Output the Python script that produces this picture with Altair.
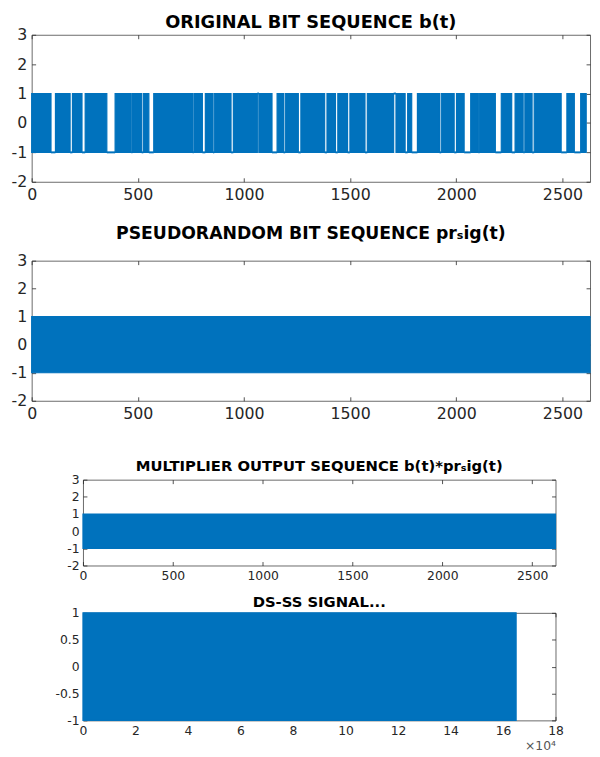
import altair as alt
import pandas as pd

BLUE = "#0072BD"
INK = "#262626"
FRAME = "#6a6a6a"
FONT = "DejaVu Sans"

# ---------------- data ----------------
BIT_X_MAX = 2630          # x limit of the three bit-sequence panels
DS_X_MAX = 180000         # x limit of the DS-SS panel

# panel 1: stretches where b(t) holds one level (white gaps), start / end / level
b_hold_start = [91, 181, 237, 354, 469, 518, 552, 758, 804, 854, 939, 1063, 1132,
                1186, 1256, 1380, 1431, 1488, 1570, 1705, 1759, 1790, 1921, 1990,
                2037, 2104, 2184, 2261, 2315, 2357, 2494, 2556]
b_hold_end = [112, 192, 252, 393, 475, 526, 575, 764, 818, 860, 950, 1070, 1156,
              1194, 1268, 1391, 1442, 1499, 1581, 1716, 1771, 1817, 1929, 2001,
              2068, 2110, 2212, 2277, 2323, 2367, 2521, 2586]
b_hold_level = [-1, -1, -1, -1, -1, -1, -1, -1, -1, -1, -1, 1, -1,
                -1, -1, -1, -1, -1, -1, 1, -1, -1, -1, -1,
                -1, -1, -1, -1, -1, -1, -1, -1]
b_last = 2612

# panel 2 / 3 / 4: extent of the dense chip streams
prs_span = [0, 2630]
mult_span = [0, 2630]
ds_span = [0, 165000]
sig_low, sig_high = -1, 1

bit_y_ticks = [-2, -1, 0, 1, 2, 3]
bit_x_ticks = [0, 500, 1000, 1500, 2000, 2500]
ds_y_ticks = [-1, -0.5, 0, 0.5, 1]
ds_x_ticks = [0, 20000, 40000, 60000, 80000, 100000, 120000, 140000, 160000, 180000]

titles = ["ORIGINAL BIT SEQUENCE b(t)",
          "PSEUDORANDOM BIT SEQUENCE pr\u209big(t)",
          "MULTIPLIER OUTPUT SEQUENCE b(t)*pr\u209big(t)",
          "DS-SS SIGNAL..."]

# ---------------- tables ----------------
p1_spans = pd.DataFrame({"x0": [0] + b_hold_end, "x1": b_hold_start + [b_last],
                         "y0": sig_low, "y1": sig_high})
p1_holds = pd.DataFrame({"s": b_hold_start, "e": b_hold_end, "lvl": b_hold_level})
p2_spans = pd.DataFrame({"x0": [prs_span[0]], "x1": [prs_span[1]], "y0": sig_low, "y1": sig_high})
p3_spans = pd.DataFrame({"x0": [mult_span[0]], "x1": [mult_span[1]], "y0": sig_low, "y1": sig_high})
p4_spans = pd.DataFrame({"x0": [ds_span[0]], "x1": [ds_span[1]], "y0": sig_low, "y1": sig_high})


def make_axis(orient, values, fs, labels=True, expr="toString(datum.value)",
              title=None, tfs=11, lpad=5):
    kw = dict(orient=orient, values=values, domain=False, grid=False, ticks=True,
              tickSize=4, tickColor=INK, tickWidth=0.8, offset=-4, labels=labels,
              title=title, minExtent=0)
    if labels:
        kw.update(labelExpr=expr, labelFont=FONT, labelFontSize=fs,
                  labelColor=INK, labelPadding=lpad, labelFlush=False)
    else:
        kw.update(maxExtent=0)
    if title:
        kw.update(titleAnchor="end", titleAlign="right", titleFont=FONT,
                  titleFontSize=tfs, titleFontWeight="normal", titleColor="#555555",
                  titlePadding=3)
    return alt.Axis(**kw)


def panel(spans, title, w, h, xdom, ydom, xt, yt, fs, tfs, toff,
          holds=None, xexpr="toString(datum.value)", xtitle=None, lpad=5):
    xs = alt.Scale(domain=xdom, nice=False, zero=False)
    ys = alt.Scale(domain=ydom, nice=False, zero=False)
    main = alt.Chart(spans).mark_rect(color=BLUE, stroke=BLUE, strokeWidth=1.2).encode(
        x=alt.X("x0:Q", scale=xs, axis=make_axis("bottom", xt, fs, expr=xexpr,
                                                  title=xtitle, tfs=12.5, lpad=lpad)),
        x2="x1:Q",
        y=alt.Y("y0:Q", scale=ys, axis=make_axis("left", yt, fs, lpad=lpad)),
        y2="y1:Q",
    )
    layers = [main]
    if holds is not None:
        layers.append(alt.Chart(holds).mark_rule(color=BLUE, strokeWidth=2).encode(
            x=alt.X("s:Q", scale=xs, axis=None), x2="e:Q",
            y=alt.Y("lvl:Q", scale=ys, axis=None)))
    mirror = alt.Chart(spans).mark_rect(opacity=0).encode(
        x=alt.X("x0:Q", scale=xs, axis=make_axis("top", xt, fs, labels=False)),
        x2="x1:Q",
        y=alt.Y("y0:Q", scale=ys, axis=make_axis("right", yt, fs, labels=False)),
        y2="y1:Q",
    )
    layers.append(mirror)
    return alt.layer(*layers).resolve_axis(x="independent", y="independent").properties(
        width=w, height=h,
        title=alt.TitleParams(title, font=FONT, fontSize=tfs, fontWeight="bold",
                              color="#000000", offset=toff, frame="group"))


p1 = panel(p1_spans, titles[0], 566, 149, [0, BIT_X_MAX], [-2, 3], bit_x_ticks,
           bit_y_ticks, 16, 18, -5, holds=p1_holds)
p2 = panel(p2_spans, titles[1], 566, 142, [0, BIT_X_MAX], [-2, 3], bit_x_ticks,
           bit_y_ticks, 16, 17.5, 10)
p3 = panel(p3_spans, titles[2], 479, 87, [0, BIT_X_MAX], [-2, 3], bit_x_ticks,
           bit_y_ticks, 12.5, 15, 0, lpad=4)
p4 = panel(p4_spans, titles[3], 479, 109, [0, DS_X_MAX], [-1, 1], ds_x_ticks,
           ds_y_ticks, 12.5, 15, -3, xexpr="toString(datum.value / 10000)",
           xtitle="\u00d710\u2074", lpad=4)

# blank spacer that pushes the two lower panels to the right, as in the figure
spacer = alt.Chart(pd.DataFrame({"v": [0]})).mark_point(opacity=0).encode(
    x=alt.X("v:Q", axis=None), y=alt.Y("v:Q", axis=None)
).properties(width=22, height=1, view=alt.ViewBackground(stroke="transparent"))

top = alt.vconcat(p1, p2, spacing=22)
bottom = alt.hconcat(spacer, alt.vconcat(p3, p4, spacing=12), spacing=0)
chart = alt.vconcat(top, bottom, spacing=36).properties(
    padding={"left": 2, "top": 0, "right": 0, "bottom": 0},
    background="white",
).configure_view(stroke=FRAME, strokeWidth=1)

chart.save("out.html", embed_options={"renderer": "svg", "actions": False})
